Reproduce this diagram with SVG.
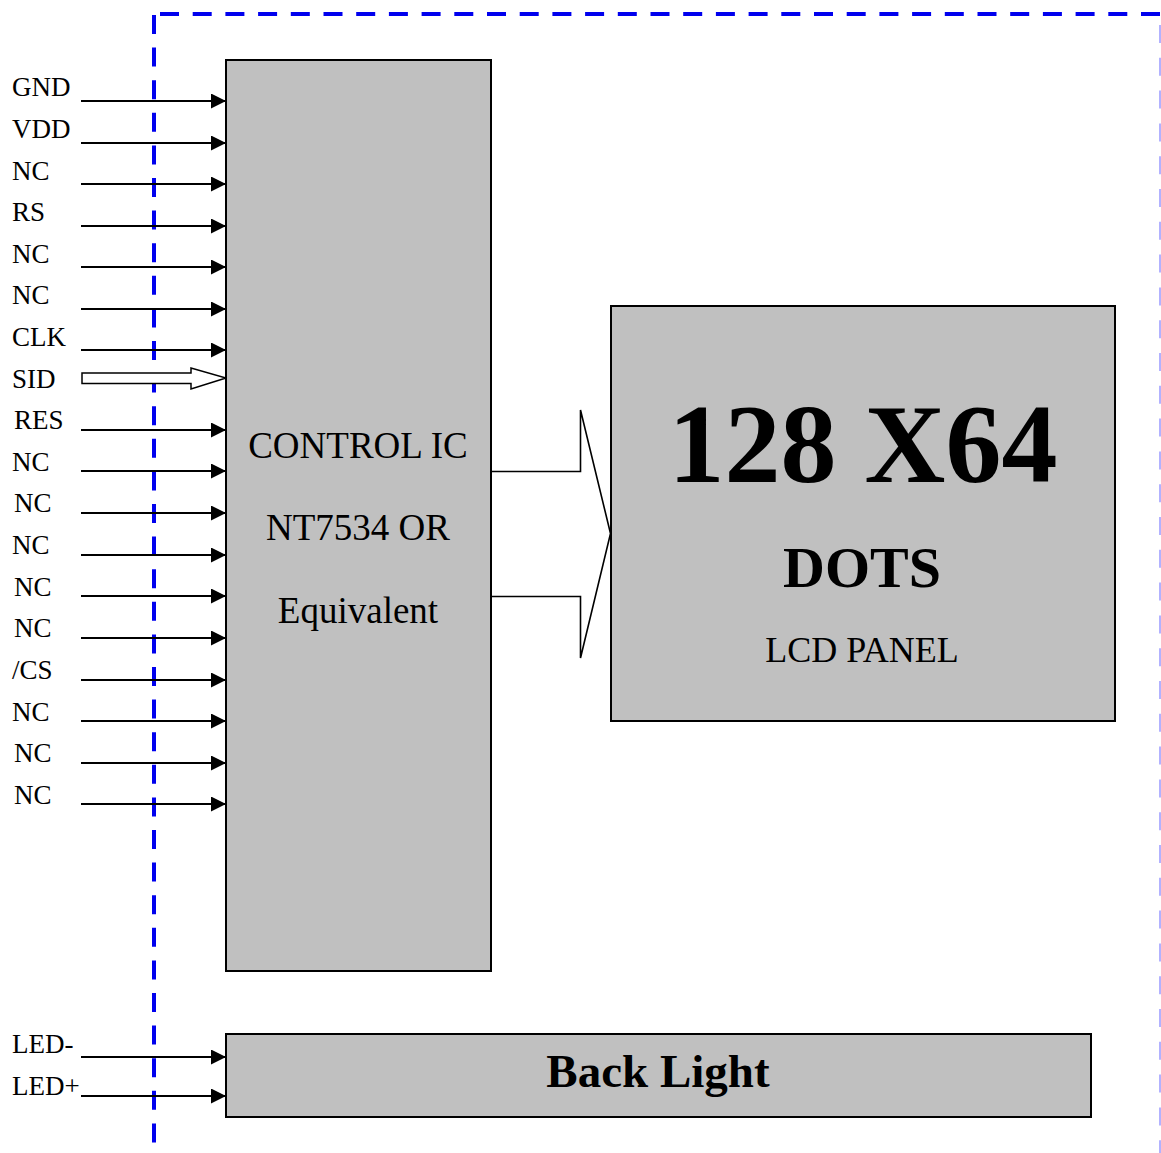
<svg xmlns="http://www.w3.org/2000/svg" width="1161" height="1153" viewBox="0 0 1161 1153">
<style>
.box{fill:#c0c0c0;stroke:#000;stroke-width:2}
.lbl{font-family:"Liberation Serif","Times New Roman",serif;font-size:27px;fill:#000}
.t{font-family:"Liberation Serif","Times New Roman",serif;fill:#000;text-anchor:middle}
.b{font-weight:bold}
.w{stroke:#000;stroke-width:2;fill:none}
</style>
<defs>
<marker id="ah" markerWidth="15" markerHeight="15" refX="15" refY="7.5" orient="auto" markerUnits="userSpaceOnUse">
<path d="M0,0 L15,7.5 L0,15 Z" fill="#000"/>
</marker>
</defs>
<rect width="1161" height="1153" fill="#fff"/>
<g id="boundary">
<line x1="160" y1="14" x2="1161" y2="14" stroke="#0000ee" stroke-width="4" stroke-dasharray="19 13.7"/>
<line x1="154" y1="15" x2="154" y2="1145" stroke="#0000ee" stroke-width="4" stroke-dasharray="19 13.6"/>
<line x1="1160" y1="25" x2="1160" y2="1153" stroke="#9999ff" stroke-width="1.5" stroke-dasharray="18 14.8"/>
</g>
<g id="connectors">
<line class="w" x1="81" y1="101" x2="226" y2="101" marker-end="url(#ah)"/>
<line class="w" x1="81" y1="143" x2="226" y2="143" marker-end="url(#ah)"/>
<line class="w" x1="81" y1="184" x2="226" y2="184" marker-end="url(#ah)"/>
<line class="w" x1="81" y1="226" x2="226" y2="226" marker-end="url(#ah)"/>
<line class="w" x1="81" y1="267" x2="226" y2="267" marker-end="url(#ah)"/>
<line class="w" x1="81" y1="309" x2="226" y2="309" marker-end="url(#ah)"/>
<line class="w" x1="81" y1="350" x2="226" y2="350" marker-end="url(#ah)"/>
<path d="M82,373 H191 V368 L226,378 L191,389 V383.5 H82 Z" fill="#fff" stroke="#000" stroke-width="1.5"/>
<line class="w" x1="81" y1="430" x2="226" y2="430" marker-end="url(#ah)"/>
<line class="w" x1="81" y1="471" x2="226" y2="471" marker-end="url(#ah)"/>
<line class="w" x1="81" y1="513" x2="226" y2="513" marker-end="url(#ah)"/>
<line class="w" x1="81" y1="555" x2="226" y2="555" marker-end="url(#ah)"/>
<line class="w" x1="81" y1="596" x2="226" y2="596" marker-end="url(#ah)"/>
<line class="w" x1="81" y1="638" x2="226" y2="638" marker-end="url(#ah)"/>
<line class="w" x1="81" y1="680" x2="226" y2="680" marker-end="url(#ah)"/>
<line class="w" x1="81" y1="721" x2="226" y2="721" marker-end="url(#ah)"/>
<line class="w" x1="81" y1="763" x2="226" y2="763" marker-end="url(#ah)"/>
<line class="w" x1="81" y1="804" x2="226" y2="804" marker-end="url(#ah)"/>
<line class="w" x1="81" y1="1057" x2="226" y2="1057" marker-end="url(#ah)"/>
<line class="w" x1="81" y1="1096" x2="226" y2="1096" marker-end="url(#ah)"/>
<path d="M491,471.5 H580.5 V410 L610.5,533.5 L580.5,658 V596.5 H491" fill="#fff" stroke="#000" stroke-width="1.6"/>
</g>
<g id="control-ic">
<rect class="box" x="226" y="60" width="265" height="911"/>
<text class="t" x="358" y="458" font-size="37">CONTROL IC</text>
<text class="t" x="358" y="540" font-size="37">NT7534 OR</text>
<text class="t" x="358" y="623" font-size="37">Equivalent</text>
</g>
<g id="lcd-panel">
<rect class="box" x="611" y="306" width="504" height="415"/>
<text class="t b" x="863" y="482" font-size="112">128 X64</text>
<text class="t b" x="862" y="587" font-size="58">DOTS</text>
<text class="t" x="862" y="662" font-size="36">LCD PANEL</text>
</g>
<g id="back-light">
<rect class="box" x="226" y="1034" width="865" height="83" stroke-width="2.5"/>
<text class="t b" x="658" y="1087" font-size="47">Back Light</text>
</g>
<g id="labels">
<text class="lbl" x="12" y="96">GND</text>
<text class="lbl" x="12" y="138">VDD</text>
<text class="lbl" x="12" y="180">NC</text>
<text class="lbl" x="12" y="221">RS</text>
<text class="lbl" x="12" y="263">NC</text>
<text class="lbl" x="12" y="304">NC</text>
<text class="lbl" x="12" y="346">CLK</text>
<text class="lbl" x="12" y="388">SID</text>
<text class="lbl" x="14" y="429">RES</text>
<text class="lbl" x="12" y="471">NC</text>
<text class="lbl" x="14" y="512">NC</text>
<text class="lbl" x="12" y="554">NC</text>
<text class="lbl" x="14" y="596">NC</text>
<text class="lbl" x="14" y="637">NC</text>
<text class="lbl" x="12" y="679">/CS</text>
<text class="lbl" x="12" y="721">NC</text>
<text class="lbl" x="14" y="762">NC</text>
<text class="lbl" x="14" y="804">NC</text>
<text class="lbl" x="12" y="1053">LED-</text>
<text class="lbl" x="12" y="1095">LED+</text>
</g>
</svg>
